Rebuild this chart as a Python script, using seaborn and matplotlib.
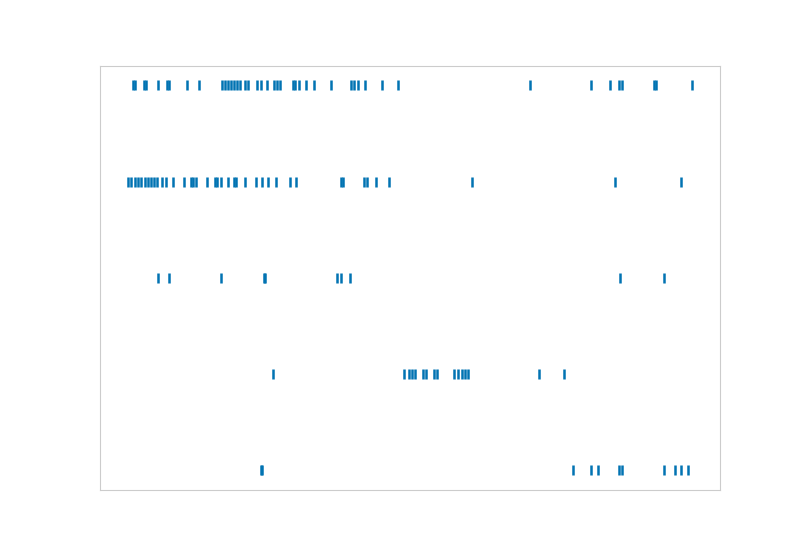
import pandas as pd
import numpy as np
import seaborn as sns
import matplotlib
matplotlib.use('Agg')
import matplotlib.pyplot as plt

# event times per row (top row first)
row_a = [5, 7, 16, 18, 30, 39, 41, 59, 71, 94, 97, 100, 103, 106, 109, 112,
         117, 120, 129, 133, 139, 146, 149, 152, 165, 167, 171, 178, 186, 203,
         223, 226, 230, 237, 254, 270, 402, 463, 482, 491, 494, 526, 528, 564]
row_b = [0, 3, 7, 10, 13, 17, 20, 23, 26, 29, 34, 38, 45, 56, 63, 65, 68, 79,
         87, 89, 93, 100, 106, 108, 117, 128, 134, 140, 148, 162, 168, 213,
         215, 236, 239, 248, 261, 344, 487, 553]
row_c = [30, 41, 93, 136, 137, 209, 213, 222, 492, 536]
row_d = [145, 276, 281, 284, 287, 295, 298, 306, 309, 326, 330, 334, 337, 340,
         411, 436]
row_e = [133, 134, 445, 463, 470, 491, 494, 536, 547, 553, 560]

rows = [row_e, row_d, row_c, row_b, row_a]
df = pd.DataFrame({
    'time': np.concatenate(rows),
    'trial': np.concatenate([[i] * len(r) for i, r in enumerate(rows)]),
})

sns.set_style('white')
fig, ax = plt.subplots(figsize=(8, 5.5), dpi=100)
sns.scatterplot(data=df, x='time', y='trial', marker='|', s=62,
                linewidth=1.8, color='#0173b2', ax=ax)
ax.set(xticks=[], yticks=[], xlabel='', ylabel='')
for sp in ax.spines.values():
    sp.set_color('#cccccc')
fig.savefig('out.png', dpi=100)
